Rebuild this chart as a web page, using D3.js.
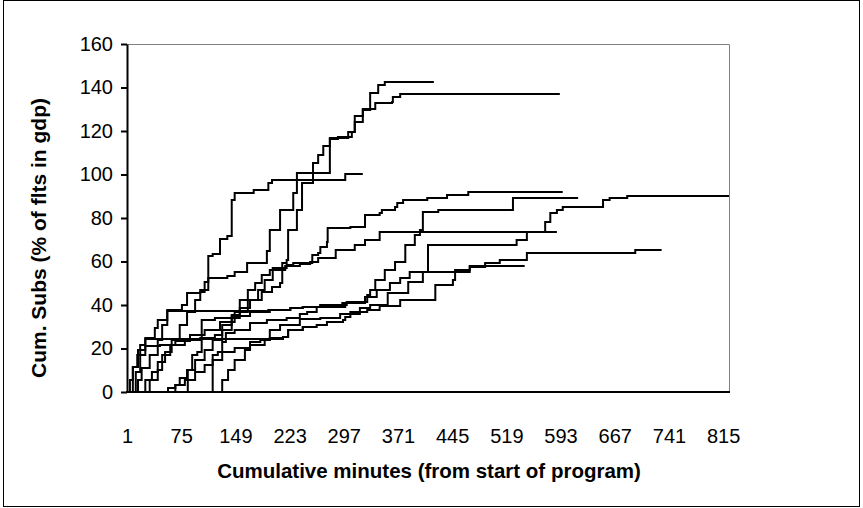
<!DOCTYPE html>
<html>
<head>
<meta charset="utf-8">
<script src="https://cdn.jsdelivr.net/npm/d3@7"></script>
<style>
  body { margin: 0; background: #fff; }
  svg { display: block; }
  .tick text { font-family: "Liberation Sans", Arial, sans-serif; font-size: 20px; fill: #000; }
  .title { font-family: "Liberation Sans", Arial, sans-serif; font-weight: bold; fill: #000; }
</style>
</head>
<body>
<script>
// minute labels shown under the axis
const xTicks = [1, 75, 149, 223, 297, 371, 445, 519, 593, 667, 741, 815];
const yTicks = [0, 20, 40, 60, 80, 100, 120, 140, 160];

// each series: [minute, cumulative subs %], value holds until next step
const s1 = [[1,0],[19,0],[26,5.5],[35,9.2],[43,13.8],[53,18.4],[62,23.9],[73,30.8],[83,36.8],[94,42.3],[101,46.9],[112,52.4],[138,53.3],[148,55.2],[165,59.3],[192,64.8],[196,74.5],[210,83.7],[228,91.5],[233,100.7],[255,105.3],[262,109.0],[269,113.1],[278,116.8],[303,119.5],[312,126.9],[323,129.7],[333,137.5],[344,141.2],[353,142.5],[420,142.5]];
const s2 = [[1,0],[62,0],[67,3.2],[73,6.4],[83,10.1],[94,14.7],[107,19.3],[118,23.9],[131,28.5],[144,34.0],[155,38.6],[169,42.3],[185,46.0],[199,48.3],[210,50.1],[213,59.3],[219,60.7],[221,74.5],[233,83.7],[240,96.1],[255,100.7],[278,116.3],[289,117.2],[308,119.5],[312,124.1],[323,130.1],[340,132.9],[363,133.3],[364,135.6],[374,137.0],[592,137.0]];
const s3 = [[1,0],[9,0],[13,9.2],[19,17.0],[26,24.8],[39,29.4],[43,33.1],[56,37.7],[76,40.0],[83,45.5],[101,46.0],[107,50.6],[112,62.5],[118,63.5],[128,70.3],[138,71.7],[144,88.3],[148,91.5],[174,92.9],[194,96.1],[199,97.5],[299,100.2],[323,100.2]];
const s4 = [[1,0],[5,0],[9,11.5],[16,19.3],[26,21.2],[46,21.6],[67,23.4],[87,26.2],[107,28.5],[128,32.2],[148,36.8],[166,42.3],[180,46.9],[189,51.5],[200,57.0],[219,58.4],[228,59.3],[254,63.0],[262,63.9],[265,66.7],[274,69.0],[275,75.4],[306,75.9],[326,81.4],[346,82.3],[349,83.7],[367,85.1],[370,86.9],[378,88.3],[411,89.2],[438,90.6],[467,92.0],[596,92.0]];
const s5 = [[1,0],[80,0],[84,10.1],[90,17.0],[97,18.4],[103,33.1],[121,34.0],[144,34.9],[169,36.8],[196,37.7],[224,38.6],[241,39.1],[265,40.0],[295,40.9],[326,43.7],[342,46.9],[360,50.1],[374,52.4],[387,55.2],[412,67.6],[533,69.9],[547,73.6],[572,78.2],[579,82.3],[588,83.7],[596,85.1],[651,88.3],[660,89.2],[684,90.1],[823,90.1]];
const s6 = [[1,0],[118,17.0],[125,18.4],[131,23.0],[136,27.1],[148,28.5],[169,31.7],[192,33.1],[219,34.0],[237,35.9],[247,36.8],[260,39.1],[299,40.0],[301,41.4],[329,44.6],[333,46.9],[340,51.5],[353,56.1],[367,59.8],[381,67.6],[394,72.2],[401,74.5],[405,82.8],[426,83.7],[528,89.2],[617,89.2]];
const s7 = [[1,0],[32,5.5],[43,10.1],[49,17.0],[60,21.6],[80,23.9],[101,24.8],[121,26.2],[131,30.8],[144,35.4],[155,42.3],[166,46.9],[176,50.1],[185,53.8],[196,56.1],[217,57.9],[237,58.9],[251,59.8],[262,61.6],[286,65.3],[312,67.6],[326,69.9],[346,73.6],[588,73.6]];
const s8 = [[1,0],[57,1.8],[67,3.2],[80,5.5],[94,9.2],[107,12.4],[118,14.7],[131,18.4],[148,20.2],[169,21.6],[189,23.9],[196,28.5],[210,30.8],[237,33.6],[265,34.0],[292,35.9],[319,38.6],[333,40.0],[357,45.5],[385,50.6],[405,55.2],[469,57.5],[490,59.3],[510,60.7],[547,63.9],[695,65.3],[731,65.3]];
const s9 = [[1,0],[131,5.5],[139,10.1],[148,14.7],[162,19.3],[169,23.0],[183,23.9],[196,24.8],[214,25.3],[221,28.5],[241,29.9],[260,30.8],[274,32.2],[296,33.1],[299,34.5],[306,36.8],[329,37.7],[346,39.5],[374,42.3],[422,49.2],[446,51.5],[449,56.1],[469,57.9],[544,57.9]];
const s10 = [[1,0],[5,5.5],[9,11.5],[15,17.0],[19,21.6],[26,24.4],[214,25.3],[221,28.5],[241,29.9],[260,29.9]];
const s11 = [[1,0],[16,5.5],[21,11.0],[32,17.0],[43,23.9],[49,30.8],[56,37.2],[194,37.7],[224,38.6],[241,39.1],[265,40.0],[300,40.0]];

const series = [s1, s2, s3, s4, s5, s6, s7, s8, s9, s10, s11];

const width = 863, height = 508;
const plot = {left: 127, right: 729, top: 44, bottom: 392};

const svg = d3.select('body').append('svg')
  .attr('width', width)
  .attr('height', height);

// outer frame
svg.append('rect')
  .attr('x', 3.5).attr('y', 0.5)
  .attr('width', 856).attr('height', 506)
  .attr('fill', 'none')
  .attr('stroke', '#000');

const x = d3.scaleLinear().domain([1, 823]).range([plot.left, plot.right]);
const y = d3.scaleLinear().domain([0, 160]).range([plot.bottom, plot.top]);

// gray top/right edges of plot area
svg.append('path')
  .attr('d', `M${plot.left},${plot.top + 0.5}H${plot.right + 0.5}V${plot.bottom}`)
  .attr('fill', 'none')
  .attr('stroke', '#808080');

const line = d3.line()
  .x(d => x(d[0]))
  .y(d => y(d[1]))
  .curve(d3.curveStepAfter);

svg.append('g')
  .selectAll('path')
  .data(series)
  .enter()
  .append('path')
  .attr('d', line)
  .attr('fill', 'none')
  .attr('stroke', '#000')
  .attr('stroke-width', 2);

const yAxis = d3.axisLeft(y).tickValues(yTicks).tickSize(6).tickSizeOuter(0).tickPadding(8);
const gy = svg.append('g')
  .attr('transform', `translate(${plot.left},0)`)
  .call(yAxis);
gy.select('.domain').attr('stroke-width', 2);
gy.selectAll('.tick line').attr('stroke-width', 2);

const xAxis = d3.axisBottom(x).tickValues(xTicks).tickSize(0).tickSizeOuter(0).tickPadding(37);
const gx = svg.append('g')
  .attr('transform', `translate(0,${plot.bottom})`)
  .call(xAxis);
gx.select('.domain').attr('stroke-width', 2).attr('d', `M${plot.left - 1},0H${plot.right + 1}`);

svg.append('text')
  .attr('class', 'title')
  .attr('x', 429).attr('y', 478)
  .attr('text-anchor', 'middle')
  .style('font-size', '20.5px')
  .text('Cumulative minutes (from start of program)');

svg.append('text')
  .attr('class', 'title')
  .attr('transform', 'translate(46,238) rotate(-90)')
  .attr('text-anchor', 'middle')
  .style('font-size', '21px')
  .text('Cum. Subs (% of flts in gdp)');
</script>
</body>
</html>
